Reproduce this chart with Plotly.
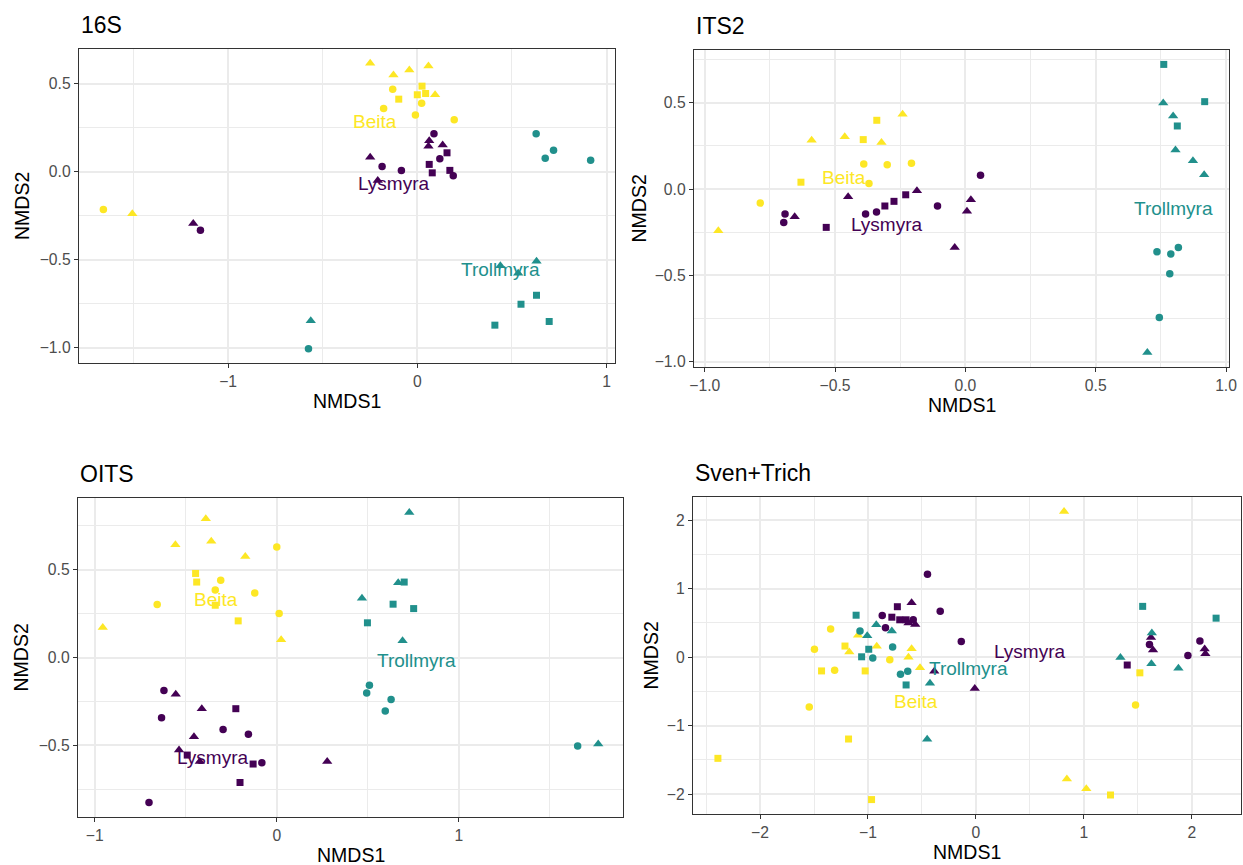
import plotly.graph_objects as go

# ---------------------------------------------------------------- data
GROUPS = ["Beita", "Lysmyra", "Trollmyra"]
# shape codes: c = circle, t = triangle, s = square

# 16S
s16_beita_x = [-0.249, -0.126, -0.042, 0.059, 0.094, -0.130, 0.025, 0.000, 0.044, -0.098, -0.178, 0.023, -0.010, 0.195, -1.659, -1.506]
s16_beita_y = [0.617, 0.551, 0.579, 0.602, 0.438, 0.470, 0.487, 0.438, 0.445, 0.413, 0.360, 0.389, 0.323, 0.296, -0.215, -0.238]
s16_beita_shape = list("tttttcssssccccct")
s16_lysmyra_x = [0.088, 0.063, 0.059, 0.134, 0.157, 0.119, -0.249, -0.186, -0.084, 0.063, 0.079, 0.172, 0.190, -0.209, -1.184, -1.146]
s16_lysmyra_y = [0.217, 0.177, 0.145, 0.153, 0.108, 0.074, 0.083, 0.030, 0.008, 0.042, -0.006, 0.008, -0.023, -0.049, -0.294, -0.332]
s16_lysmyra_shape = list("ctttsctccssscttc")
s16_trollmyra_x = [0.628, 0.720, 0.676, 0.916, 0.439, 0.630, 0.533, 0.630, 0.548, 0.697, 0.410, -0.563, -0.575]
s16_trollmyra_y = [0.217, 0.123, 0.077, 0.066, -0.534, -0.508, -0.577, -0.702, -0.753, -0.851, -0.872, -0.847, -1.006]
s16_trollmyra_shape = list("cccctttsssstc")
s16_label_x = [-0.224, -0.121, 0.439]
s16_label_y = [0.287, -0.068, -0.558]

# ITS2
its2_beita_x = [-0.948, -0.787, -0.631, -0.590, -0.463, -0.392, -0.340, -0.322, -0.241, -0.390, -0.300, -0.207, -0.370]
its2_beita_y = [-0.241, -0.081, 0.040, 0.283, 0.304, 0.287, 0.399, 0.270, 0.434, 0.145, 0.141, 0.150, 0.033]
its2_beita_shape = list("tcsttssttcccc")
its2_lysmyra_x = [-0.692, -0.697, -0.655, -0.534, -0.450, -0.383, -0.341, -0.309, -0.274, -0.229, -0.186, -0.107, 0.058, 0.021, 0.006, -0.041]
its2_lysmyra_y = [-0.145, -0.193, -0.160, -0.222, -0.044, -0.145, -0.133, -0.098, -0.071, -0.033, -0.010, -0.098, 0.081, -0.062, -0.129, -0.339]
its2_lysmyra_shape = list("cctstccssstccttt")
its2_trollmyra_x = [0.761, 0.759, 0.918, 0.797, 0.813, 0.806, 0.873, 0.916, 0.735, 0.788, 0.817, 0.784, 0.744, 0.698]
its2_trollmyra_y = [0.723, 0.499, 0.507, 0.424, 0.366, 0.227, 0.164, 0.083, -0.364, -0.376, -0.339, -0.491, -0.744, -0.948]
its2_trollmyra_shape = list("stststttccccct")
its2_label_x = [-0.465, -0.302, 0.800]
its2_label_y = [0.067, -0.206, -0.110]

# OITS
oits_beita_x = [-0.390, -0.557, -0.360, 0.000, -0.173, -0.446, -0.440, -0.308, -0.338, -0.121, -0.657, -0.338, 0.013, -0.212, -0.956, 0.024]
oits_beita_y = [0.791, 0.642, 0.662, 0.630, 0.575, 0.479, 0.430, 0.440, 0.385, 0.368, 0.302, 0.298, 0.251, 0.209, 0.172, 0.102]
oits_beita_shape = list("tttctssccccscstt")
oits_lysmyra_x = [-0.620, -0.555, -0.633, -0.412, -0.225, -0.295, -0.156, -0.455, -0.537, -0.492, -0.423, -0.130, -0.082, 0.277, -0.202, -0.702]
oits_lysmyra_y = [-0.187, -0.209, -0.342, -0.291, -0.291, -0.409, -0.436, -0.451, -0.526, -0.555, -0.592, -0.606, -0.598, -0.592, -0.711, -0.825]
oits_lysmyra_shape = list("ctctsccttstsctsc")
oits_trollmyra_x = [0.728, 0.667, 0.700, 0.468, 0.639, 0.752, 0.498, 0.691, 0.509, 0.494, 0.628, 0.596, 1.653, 1.766]
oits_trollmyra_y = [0.826, 0.426, 0.430, 0.338, 0.304, 0.279, 0.198, 0.096, -0.157, -0.202, -0.238, -0.304, -0.504, -0.492]
oits_trollmyra_shape = list("ttstssstccccct")
oits_label_x = [-0.332, -0.353, 0.769]
oits_label_y = [0.332, -0.570, -0.017]

# Sven+Trich
sven_beita_x = [0.816, -1.346, -1.496, -1.092, -1.213, -1.173, -0.919, -1.430, -1.309, -1.026, -0.798, -0.596, -0.625, -0.518, -1.544, -1.180, -2.390, -0.967, 0.842, 1.022, 1.246, 1.518, 1.478]
sven_beita_y = [2.127, 0.411, 0.115, 0.320, 0.162, 0.076, 0.158, -0.201, -0.191, -0.201, -0.038, 0.124, 0.000, -0.153, -0.726, -1.195, -1.477, -2.079, -1.778, -1.921, -2.012, -0.229, -0.698]
sven_beita_shape = list("tcctsttscsctttcsssttssc")
sven_lysmyra_x = [-0.449, -0.596, -0.728, -0.331, -0.868, -0.779, -0.706, -0.647, -0.581, -0.625, -0.562, -0.838, -0.136, -0.386, -0.011, 1.401, 1.607, 1.621, 1.640, 1.963, 2.074, 2.118, 2.125]
sven_lysmyra_y = [1.209, 0.793, 0.736, 0.669, 0.607, 0.583, 0.545, 0.545, 0.545, 0.497, 0.478, 0.430, 0.229, -0.205, -0.459, -0.115, 0.186, 0.287, 0.105, 0.024, 0.234, 0.119, 0.048]
sven_lysmyra_shape = list("ctsccssscttccttscttcctt")
sven_trollmyra_x = [-1.110, -0.923, -1.074, -1.007, -0.779, -0.993, -1.059, -0.956, -0.772, -0.632, -0.699, -0.647, -0.426, -0.452, 1.544, 2.224, 1.629, 1.338, 1.625, 1.875]
sven_trollmyra_y = [0.612, 0.473, 0.382, 0.311, 0.382, 0.115, 0.005, -0.014, 0.148, -0.205, -0.249, -0.406, -0.382, -1.200, 0.741, 0.569, 0.354, -0.005, -0.096, -0.162]
sven_trollmyra_shape = list("stcttssccccsttsstttt")
sven_label_x = [-0.551, 0.496, -0.066]
sven_label_y = [-0.645, 0.076, -0.162]

# ---------------------------------------------------------------- style
W, H = 1243, 865
FONT = "Liberation Sans, Arial, Helvetica, sans-serif"
COLORS = {"Beita": "#FDE725", "Lysmyra": "#440154", "Trollmyra": "#21908C"}
SYMBOL = {"c": "circle", "t": "triangle-up", "s": "square"}
SIZE = {"c": 7.5, "t": 9, "s": 7}
GRID = "#EBEBEB"
BORDER = "#333333"

panels = [
    dict(title="16S", box=(79, 49, 615, 363), xdtick=1, xfmt="d", ydtick=0.5, yfmt=".1f", ytitle_dx=57,
         data={"Beita": (s16_beita_x, s16_beita_y, s16_beita_shape),
               "Lysmyra": (s16_lysmyra_x, s16_lysmyra_y, s16_lysmyra_shape),
               "Trollmyra": (s16_trollmyra_x, s16_trollmyra_y, s16_trollmyra_shape)},
         labels=(s16_label_x, s16_label_y)),
    dict(title="ITS2", box=(694, 50, 1229, 367), xdtick=0.5, xfmt=".1f", ydtick=0.5, yfmt=".1f", ytitle_dx=56,
         data={"Beita": (its2_beita_x, its2_beita_y, its2_beita_shape),
               "Lysmyra": (its2_lysmyra_x, its2_lysmyra_y, its2_lysmyra_shape),
               "Trollmyra": (its2_trollmyra_x, its2_trollmyra_y, its2_trollmyra_shape)},
         labels=(its2_label_x, its2_label_y)),
    dict(title="OITS", box=(78, 498, 623, 817), xdtick=1, xfmt="d", ydtick=0.5, yfmt=".1f", ytitle_dx=58,
         data={"Beita": (oits_beita_x, oits_beita_y, oits_beita_shape),
               "Lysmyra": (oits_lysmyra_x, oits_lysmyra_y, oits_lysmyra_shape),
               "Trollmyra": (oits_trollmyra_x, oits_trollmyra_y, oits_trollmyra_shape)},
         labels=(oits_label_x, oits_label_y)),
    dict(title="Sven+Trich", box=(693, 497, 1241, 814), xdtick=1, xfmt="d", ydtick=1, yfmt="d", ytitle_dx=43,
         data={"Beita": (sven_beita_x, sven_beita_y, sven_beita_shape),
               "Lysmyra": (sven_lysmyra_x, sven_lysmyra_y, sven_lysmyra_shape),
               "Trollmyra": (sven_trollmyra_x, sven_trollmyra_y, sven_trollmyra_shape)},
         labels=(sven_label_x, sven_label_y)),
]


def expanded(values, mult=0.05):
    lo, hi = min(values), max(values)
    pad = (hi - lo) * mult
    return [lo - pad, hi + pad]


fig = go.Figure()
annotations = []
layout = {}

for i, p in enumerate(panels, start=1):
    sfx = "" if i == 1 else str(i)
    xa, ya = "x" + sfx, "y" + sfx
    left, top, right, bottom = p["box"]

    all_x = list(p["labels"][0])
    all_y = list(p["labels"][1])
    for g in GROUPS:
        xs, ys, shapes = p["data"][g]
        all_x += xs
        all_y += ys
        fig.add_trace(go.Scatter(
            x=xs, y=ys, mode="markers", name=g, showlegend=False,
            xaxis=xa, yaxis=ya,
            marker=dict(color=COLORS[g], symbol=[SYMBOL[s] for s in shapes],
                        size=[SIZE[s] for s in shapes], opacity=1, line=dict(width=0)),
        ))

    # group names placed at their label positions
    for g, lx, ly in zip(GROUPS, *p["labels"]):
        annotations.append(dict(x=lx, y=ly, xref=xa, yref=ya, text=g, showarrow=False,
                                xanchor="center", yanchor="middle",
                                font=dict(family=FONT, size=19, color=COLORS[g])))

    common = dict(showline=True, mirror=True, linecolor=BORDER, linewidth=1.4,
                  ticks="outside", ticklen=4, tickwidth=1.3, tickcolor=BORDER,
                  tickfont=dict(family=FONT, size=15.7, color="#4D4D4D"),
                  showgrid=True, gridcolor=GRID, gridwidth=1.8, zeroline=False,
                  automargin=False)
    layout["xaxis" + sfx] = dict(
        common, domain=[left / W, right / W], anchor=ya, range=expanded(all_x),
        tick0=0, dtick=p["xdtick"], tickformat=p["xfmt"],
        minor=dict(tick0=0, dtick=p["xdtick"] / 2, showgrid=True, gridcolor=GRID, gridwidth=0.9))
    layout["yaxis" + sfx] = dict(
        common, domain=[1 - bottom / H, 1 - top / H], anchor=xa, range=expanded(all_y),
        tick0=0, dtick=p["ydtick"], tickformat=p["yfmt"],
        minor=dict(tick0=0, dtick=p["ydtick"] / 2, showgrid=True, gridcolor=GRID, gridwidth=0.9))

    # panel title
    annotations.append(dict(x=left / W, y=1 - (top - 24) / H, xref="paper", yref="paper",
                            text=p["title"], showarrow=False, xanchor="left", yanchor="middle",
                            font=dict(family=FONT, size=23, color="black")))
    # axis titles
    annotations.append(dict(x=(left + right) / 2 / W, y=1 - (bottom + 38) / H, xref="paper", yref="paper",
                            text="NMDS1", showarrow=False, xanchor="center", yanchor="middle",
                            font=dict(family=FONT, size=19.5, color="black")))
    annotations.append(dict(x=(left - p["ytitle_dx"]) / W, y=1 - (top + bottom) / 2 / H, xref="paper",
                            yref="paper", text="NMDS2", showarrow=False, textangle=-90,
                            xanchor="center", yanchor="middle",
                            font=dict(family=FONT, size=19.5, color="black")))

fig.update_layout(
    width=W, height=H, margin=dict(l=0, r=0, t=0, b=0),
    paper_bgcolor="white", plot_bgcolor="white", template="none",
    annotations=annotations, **layout,
)

fig.write_html("out.html")
